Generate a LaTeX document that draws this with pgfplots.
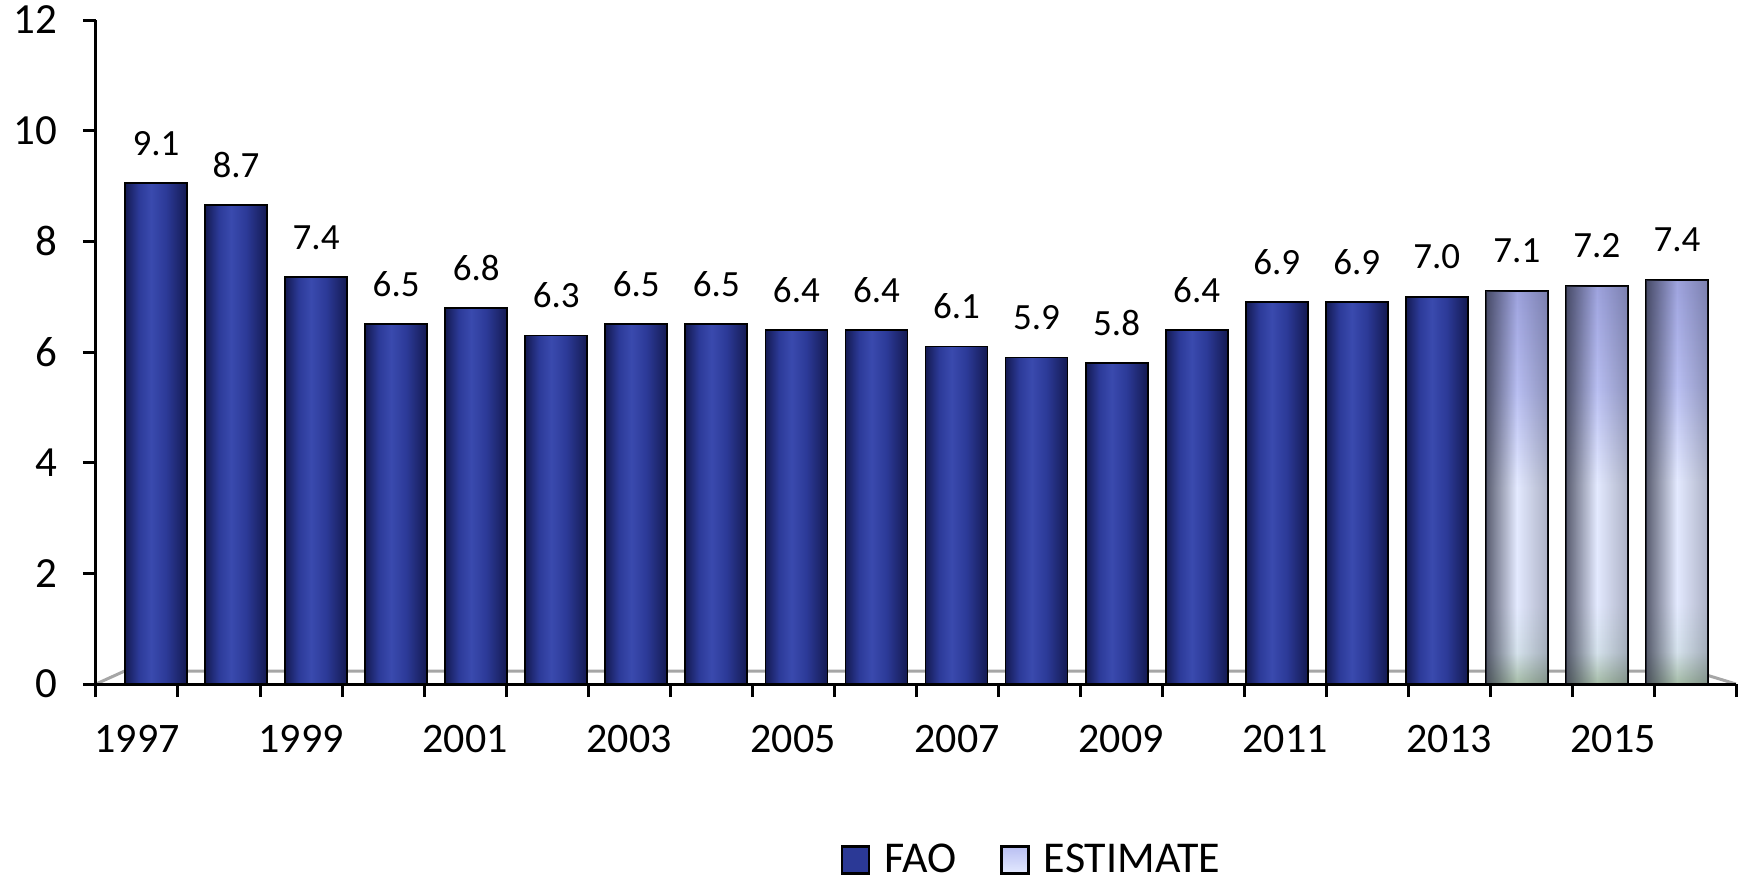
\documentclass[border=0pt]{standalone}
\usepackage{fontspec}
\setmainfont{Carlito}
\usepackage{pgfplots}
\pgfplotsset{compat=1.18}
\usepackage{pgfplotstable}
\usetikzlibrary{fadings}

\definecolor{faoblue}{HTML}{2B3996}
\definecolor{faoedge}{HTML}{141A52}
\definecolor{faomid}{HTML}{2C3A98}
\definecolor{faohi}{HTML}{3A4AAE}
\definecolor{estTop}{HTML}{9EA3DE}
\definecolor{estUp}{HTML}{B9BFF2}
\definecolor{estMid}{HTML}{E4EAFF}
\definecolor{estLow}{HTML}{D5E2EC}
\definecolor{estBot}{HTML}{A5BCA6}
\definecolor{estShadow}{HTML}{2A2D40}
\definecolor{floorgray}{HTML}{A6A6A6}

\pgfdeclarehorizontalshading{faocyl}{100bp}{%
  color(0bp)=(faoedge); color(25bp)=(faoedge); color(36bp)=(faomid);
  color(46bp)=(faohi); color(58bp)=(faomid); color(75bp)=(faoedge); color(100bp)=(faoedge)}
\pgfdeclareverticalshading{estcyl}{100bp}{%
  color(0bp)=(estBot); color(25bp)=(estBot); color(29bp)=(estLow);
  color(35bp)=(estMid); color(50bp)=(estMid); color(62bp)=(estUp);
  color(75bp)=(estTop); color(100bp)=(estTop)}
\tikzfading[name=cylfade, left color=transparent!25, right color=transparent!70, middle color=transparent!100]

\pgfplotstableread{
year h lab
1997 9.05 9.1
1998 8.65 8.7
1999 7.35 7.4
2000 6.5 6.5
2001 6.8 6.8
2002 6.3 6.3
2003 6.5 6.5
2004 6.5 6.5
2005 6.4 6.4
2006 6.4 6.4
2007 6.1 6.1
2008 5.9 5.9
2009 5.8 5.8
2010 6.4 6.4
2011 6.9 6.9
2012 6.9 6.9
2013 7.0 7.0
}\faodata
\pgfplotstableread{
year h lab
2014 7.1 7.1
2015 7.2 7.2
2016 7.3 7.4
}\estdata

\begin{document}
\begin{tikzpicture}
\useasboundingbox (-48pt,-95.5pt) rectangle (821.5pt,342pt);
\begin{axis}[
  at={(0pt,0pt)}, anchor=south west,
  scale only axis, width=820pt, height=332pt,
  xmin=0, xmax=20, ymin=0, ymax=12,
  clip=false, axis on top,
  axis lines=left,
  axis line style={-, line width=1.5pt, black},
  tick style={line width=1.5pt, black},
  tick align=outside,
  major tick length=6.5pt,
  ytick={0,2,...,12},
  xtick={0,...,20}, xticklabels={},
  extra x ticks={0.5,2.5,...,18.5},
  extra x tick labels={1997,1999,2001,2003,2005,2007,2009,2011,2013,2015},
  extra x tick style={major tick length=0pt, tick label style={inner sep=0pt, anchor=north, yshift=-20.5pt}},
  /pgf/number format/assume math mode=true,
  tick label style={font=\fontsize{21}{24}\selectfont},
  yticklabel style={inner sep=0pt, anchor=east, xshift=-12.8pt, font=\fontsize{21.5}{24}\selectfont},
  legend style={at={(axis description cs:0.571,-0.265)}, anchor=center, draw=none, fill=none,
    font=\fontsize{22}{25}\selectfont,
    /tikz/every odd column/.append style={column sep=5pt},
    /tikz/every even column/.append style={column sep=20pt}},
  legend columns=2,
  every axis plot/.append style={ybar, bar width=31pt, bar shift=0pt},
  nodes near coords style={anchor=center, yshift=20pt, text=black, fill=none,
    font=\fontsize{18.5}{21}\selectfont},
]
\addplot[forget plot, sharp plot, no markers, draw=floorgray, line width=1.5pt]
  coordinates {(0,0) (0.35,0.235) (19.48,0.235) (20,0)};

% FAO bars, one path per bar so that each bar gets its own cylinder shading
\pgfplotsinvokeforeach{1997,...,2013}{
\addplot[forget plot, ybar, draw=black, line width=0.9pt, shading=faocyl,
  nodes near coords, point meta=explicit symbolic]
  table[x expr={0.732+0.9762*(\thisrow{year}-1997)}, y=h, meta=lab,
        restrict expr to domain={\thisrow{year}}{#1:#1}] {\faodata};
}
% ESTIMATE bars
\pgfplotsinvokeforeach{2014,2015,2016}{
\addplot[forget plot, ybar, draw=black, line width=0.9pt, shading=estcyl,
  nodes near coords, point meta=explicit symbolic]
  table[x expr={0.732+0.9762*(\thisrow{year}-1997)}, y=h, meta=lab,
        restrict expr to domain={\thisrow{year}}{#1:#1}] {\estdata};
\addplot[forget plot, ybar, draw=none, fill=estShadow, path fading=cylfade]
  table[x expr={0.732+0.9762*(\thisrow{year}-1997)}, y=h,
        restrict expr to domain={\thisrow{year}}{#1:#1}] {\estdata};
}

\addlegendimage{legend image code/.code={\draw[line width=1.3pt, draw=black, fill=faoblue] (0pt,-6.75pt) rectangle (13.5pt,6.75pt);}}
\addlegendentry{FAO}
\addlegendimage{legend image code/.code={\draw[line width=1.3pt, draw=black, top color=estUp, bottom color=estMid] (0pt,-6.75pt) rectangle (13.5pt,6.75pt);}}
\addlegendentry{ESTIMATE}
\end{axis}
\end{tikzpicture}
\end{document}
